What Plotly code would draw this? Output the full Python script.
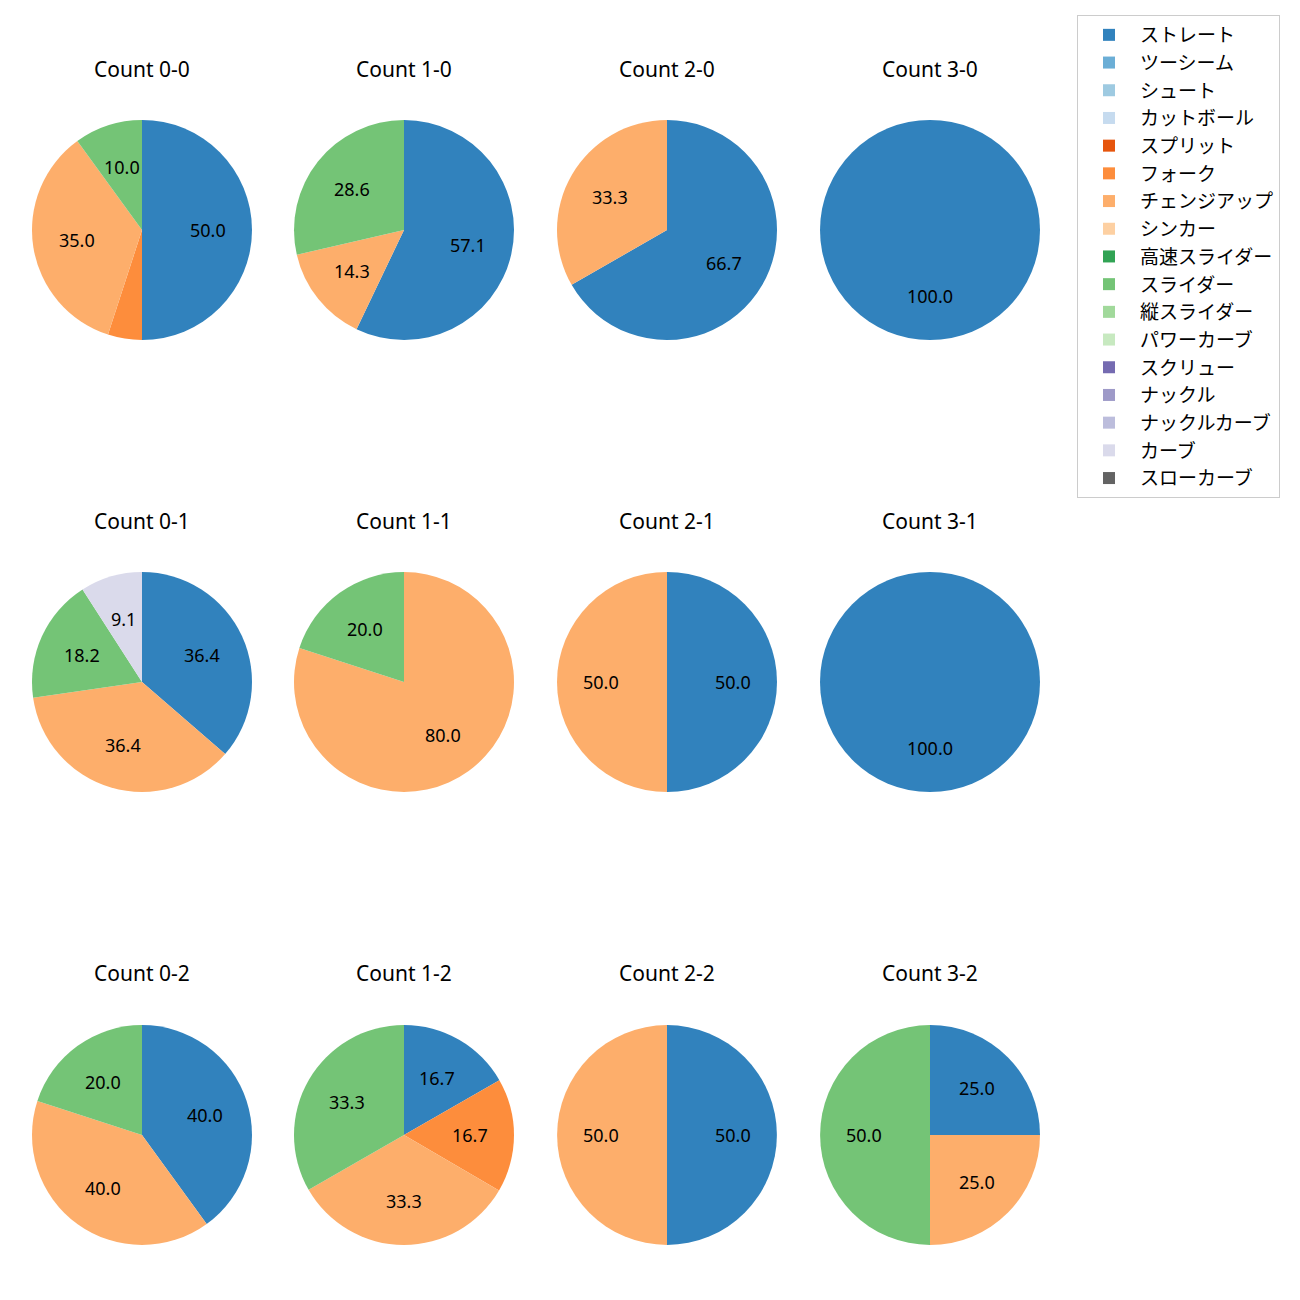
import math
import plotly.graph_objects as go

pitch_types = ["ストレート", "ツーシーム", "シュート", "カットボール", "スプリット", "フォーク",
               "チェンジアップ", "シンカー", "高速スライダー", "スライダー", "縦スライダー",
               "パワーカーブ", "スクリュー", "ナックル", "ナックルカーブ", "カーブ", "スローカーブ"]
pitch_colors = ["#3182bd", "#6baed6", "#9ecae1", "#c6dbef", "#e6550d", "#fd8d3c",
                "#fdae6b", "#fdd0a2", "#31a354", "#74c476", "#a1d99b", "#c7e9c0",
                "#756bb1", "#9e9ac8", "#bcbddc", "#dadaeb", "#636363"]

counts = ["0-0", "1-0", "2-0", "3-0",
          "0-1", "1-1", "2-1", "3-1",
          "0-2", "1-2", "2-2", "3-2"]

labels_00 = ["ストレート", "フォーク", "チェンジアップ", "スライダー"]
values_00 = [50.0, 5.0, 35.0, 10.0]
labels_10 = ["ストレート", "チェンジアップ", "スライダー"]
values_10 = [57.1, 14.3, 28.6]
labels_20 = ["ストレート", "チェンジアップ"]
values_20 = [66.7, 33.3]
labels_30 = ["ストレート"]
values_30 = [100.0]
labels_01 = ["ストレート", "チェンジアップ", "スライダー", "カーブ"]
values_01 = [36.4, 36.4, 18.2, 9.1]
labels_11 = ["チェンジアップ", "スライダー"]
values_11 = [80.0, 20.0]
labels_21 = ["ストレート", "チェンジアップ"]
values_21 = [50.0, 50.0]
labels_31 = ["ストレート"]
values_31 = [100.0]
labels_02 = ["ストレート", "チェンジアップ", "スライダー"]
values_02 = [40.0, 40.0, 20.0]
labels_12 = ["ストレート", "フォーク", "チェンジアップ", "スライダー"]
values_12 = [16.7, 16.7, 33.3, 33.3]
labels_22 = ["ストレート", "チェンジアップ"]
values_22 = [50.0, 50.0]
labels_32 = ["ストレート", "チェンジアップ", "スライダー"]
values_32 = [25.0, 25.0, 50.0]

pie_labels = [labels_00, labels_10, labels_20, labels_30,
              labels_01, labels_11, labels_21, labels_31,
              labels_02, labels_12, labels_22, labels_32]
pie_values = [values_00, values_10, values_20, values_30,
              values_01, values_11, values_21, values_31,
              values_02, values_12, values_22, values_32]

W = H = 1300
col_cx = [142, 404, 667, 930]
row_cy = [230, 682, 1135]
R = 110
LATIN = "Noto Sans, Noto Sans CJK JP"
CJK = "Noto Sans CJK JP"
color_of = dict(zip(pitch_types, pitch_colors))

fig = go.Figure()
annotations = []
for k, (labs, vals) in enumerate(zip(pie_labels, pie_values)):
    r, c = divmod(k, 4)
    cx, cy = col_cx[c], row_cy[r]
    fig.add_trace(go.Pie(
        labels=labs, values=vals, sort=False, direction="clockwise", rotation=0,
        marker=dict(colors=[color_of[l] for l in labs]),
        textinfo="none", hoverinfo="label+percent", showlegend=False,
        domain=dict(x=[(cx - R) / W, (cx + R) / W], y=[1 - (cy + R) / H, 1 - (cy - R) / H]),
    ))
    annotations.append(dict(text=f"Count {counts[k]}", x=cx / W, y=1 - (69 + r * 452) / H,
                            xref="paper", yref="paper", xanchor="center", yanchor="middle",
                            showarrow=False, font=dict(size=21, color="black", family=LATIN)))
    total = sum(vals)
    cum = 0.0
    for v in vals:
        pct = 100 * v / total
        theta = math.radians(90 - 360 * (cum + v / 2) / total)
        cum += v
        if pct <= 5:
            continue
        px = cx + 0.6 * R * math.cos(theta)
        py = cy - 0.6 * R * math.sin(theta)
        annotations.append(dict(text=f"{pct:.1f}", x=px / W, y=1 - py / H, xref="paper", yref="paper",
                                xanchor="center", yanchor="middle", showarrow=False,
                                font=dict(size=18, color="black", family=LATIN)))

# legend entries (one per pitch type, in fixed order); tiny pies hidden under the legend box
for name, col in zip(pitch_types, pitch_colors):
    fig.add_trace(go.Pie(labels=[name], values=[1], marker=dict(colors=[col]),
                         textinfo="none", hoverinfo="skip", legendgroup=name, showlegend=True,
                         domain=dict(x=[0.90, 0.9002], y=[0.80, 0.8002])))

fig.update_layout(
    width=W, height=H, margin=dict(l=0, r=0, t=0, b=0),
    paper_bgcolor="white", plot_bgcolor="white",
    font=dict(family=CJK, size=19, color="black"),
    annotations=annotations,
    legend=dict(x=1077 / W, y=1 - 15 / H, xanchor="left", yanchor="top",
                bordercolor="#cccccc", borderwidth=1, bgcolor="white",
                font=dict(size=19, family=CJK), tracegroupgap=0.2, traceorder="normal",
                itemwidth=52),
)
fig.write_html("out.html")
